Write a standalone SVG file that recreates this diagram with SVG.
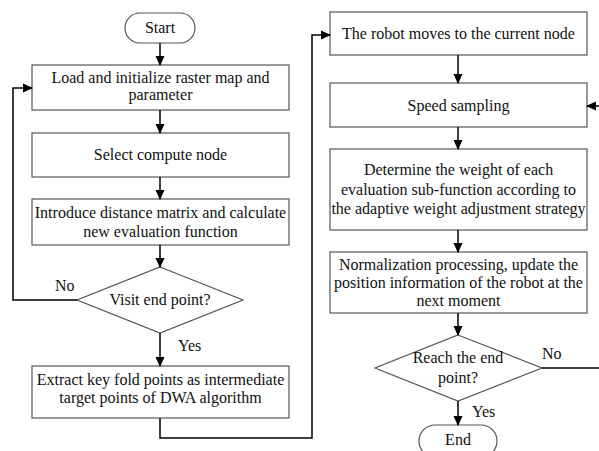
<svg xmlns="http://www.w3.org/2000/svg" width="599" height="451" viewBox="0 0 599 451">
<style>
.box{fill:#fff;stroke:#555;stroke-width:1.2}
.t{text-anchor:middle}
.c{fill:none;stroke:#000;stroke-width:1.5}
</style>
<defs>
<marker id="a" markerWidth="10" markerHeight="10" refX="9" refY="5" orient="auto" markerUnits="userSpaceOnUse">
<path d="M0,0.5 L10,5 L0,9.5 Z" fill="#000"/>
</marker>
</defs>
<g font-family="'Liberation Serif', 'Times New Roman', serif" font-size="16" fill="#111">
<g id="start"><rect class="box" x="125" y="13" width="70" height="30" rx="15"/><text class="t" x="160" y="33">Start</text></g>
<g id="load"><rect class="box" x="32" y="65" width="257" height="45"/><text class="t" x="160.5" y="83">Load and initialize raster map and</text><text class="t" x="160.5" y="100">parameter</text></g>
<g id="select"><rect class="box" x="32" y="133" width="257" height="44"/><text class="t" x="160.5" y="160">Select compute node</text></g>
<g id="introduce"><rect class="box" x="32" y="199" width="257" height="46"/><text class="t" x="160.5" y="218">Introduce distance matrix and calculate</text><text class="t" x="160.5" y="237">new evaluation function</text></g>
<g id="visit"><polygon class="box" points="160,267 243,300 160,333 77,300"/><text class="t" x="160" y="305">Visit end point?</text></g>
<g id="extract"><rect class="box" x="32" y="366" width="257" height="52"/><text class="t" x="160.5" y="385">Extract key fold points as intermediate</text><text class="t" x="160.5" y="403">target points of DWA algorithm</text></g>
<g id="moves"><rect class="box" x="330" y="12" width="257" height="43"/><text class="t" x="458.5" y="39">The robot moves to the current node</text></g>
<g id="speed"><rect class="box" x="330" y="83" width="257" height="44"/><text class="t" x="458.5" y="111">Speed sampling</text></g>
<g id="weight"><rect class="box" x="330" y="149" width="257" height="81"/><text class="t" x="458.5" y="175">Determine the weight of each</text><text class="t" x="458.5" y="195">evaluation sub-function according to</text><text class="t" x="458.5" y="214">the adaptive weight adjustment strategy</text></g>
<g id="normalize"><rect class="box" x="330" y="252" width="257" height="61"/><text class="t" x="458.5" y="270">Normalization processing, update the</text><text class="t" x="458.5" y="288">position information of the robot at the</text><text class="t" x="458.5" y="306">next moment</text></g>
<g id="reach"><polygon class="box" points="458,335 542,368 458,401 375,368"/><text class="t" x="458" y="363">Reach the end</text><text class="t" x="458" y="383">point?</text></g>
<g id="end"><rect class="box" x="419" y="425" width="78" height="32" rx="16"/><text class="t" x="458" y="445">End</text></g>
<g id="connectors">
<line class="c" x1="160" y1="43" x2="160" y2="65" marker-end="url(#a)"/>
<line class="c" x1="160" y1="110" x2="160" y2="133" marker-end="url(#a)"/>
<line class="c" x1="160" y1="177" x2="160" y2="199" marker-end="url(#a)"/>
<line class="c" x1="160" y1="245" x2="160" y2="267" marker-end="url(#a)"/>
<line class="c" x1="160" y1="333" x2="160" y2="366" marker-end="url(#a)"/>
<polyline class="c" points="77,300 13,300 13,88 32,88" marker-end="url(#a)"/>
<polyline class="c" points="160,418 160,438 312,438 312,35 330,35" marker-end="url(#a)"/>
<line class="c" x1="458" y1="55" x2="458" y2="83" marker-end="url(#a)"/>
<line class="c" x1="458" y1="127" x2="458" y2="149" marker-end="url(#a)"/>
<line class="c" x1="458" y1="230" x2="458" y2="252" marker-end="url(#a)"/>
<line class="c" x1="458" y1="313" x2="458" y2="335" marker-end="url(#a)"/>
<line class="c" x1="458" y1="401" x2="458" y2="425" marker-end="url(#a)"/>
<line class="c" x1="542" y1="368" x2="599" y2="368"/>
<line class="c" x1="599" y1="106" x2="587" y2="106" marker-end="url(#a)"/>
<text x="55" y="291">No</text>
<text x="178" y="351">Yes</text>
<text x="542" y="359">No</text>
<text x="472" y="417">Yes</text>
</g>
</g>
</svg>
